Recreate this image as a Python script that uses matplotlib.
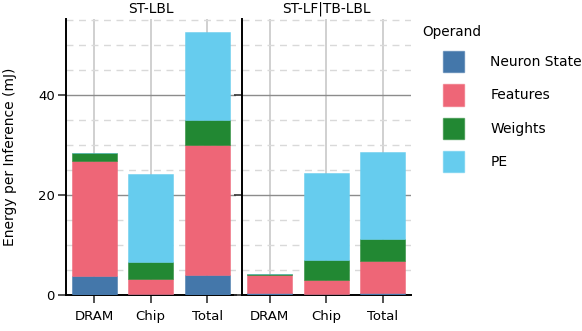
import numpy as np
import matplotlib.pyplot as plt
from matplotlib.patches import Patch
from matplotlib.ticker import MultipleLocator

# categories and panels
categories = ["DRAM", "Chip", "Total"]
panels = ["ST-LBL", "ST-LF|TB-LBL"]
operands = ["Neuron State", "Features", "Weights", "PE"]
colors = ["#4477AA", "#EE6677", "#228833", "#66CCEE"]

# energy per operand (mJ), one list per panel, order DRAM / Chip / Total
neuron_state = [[3.7, 0.2, 3.9], [0.3, 0.05, 0.35]]
features = [[23.1, 3.0, 26.1], [3.6, 2.8, 6.4]]
weights = [[1.6, 3.4, 5.0], [0.2, 4.1, 4.3]]
pe = [[0.0, 17.5, 17.5], [0.0, 17.4, 17.4]]

series = [neuron_state, features, weights, pe]

fig = plt.figure(figsize=(5.82, 3.31), dpi=100)
W, H = 582, 331
axes = [fig.add_axes([66 / W, 1 - 295 / H, 169.5 / W, 276.5 / H]),
        fig.add_axes([241.5 / W, 1 - 295 / H, 169.5 / W, 276.5 / H])]

x = np.arange(len(categories))
for i, ax in enumerate(axes):
    bottom = np.zeros(len(categories))
    for vals, col in zip(series, colors):
        v = np.array(vals[i])
        ax.bar(x, v, width=0.8, bottom=bottom, color=col,
               edgecolor=col + "99", linewidth=0.6, zorder=3)
        bottom += v

    ax.set_xlim(-0.5, 2.5)
    ax.set_ylim(-0.1, 55.2)
    ax.set_xticks(x)
    ax.set_xticklabels(categories, fontsize=9.5)
    ax.yaxis.set_major_locator(MultipleLocator(20))
    ax.yaxis.set_minor_locator(MultipleLocator(5))
    ax.grid(axis="y", which="major", color="#8c8c8c", linewidth=1.0, zorder=0)
    ax.grid(axis="y", which="minor", color="#d9d9d9", linewidth=1.0,
            linestyle=(0, (5, 4)), zorder=0)
    ax.grid(axis="x", which="major", color="#c8c8c8", linewidth=1.2, zorder=0)
    ax.tick_params(axis="both", which="major", length=6, width=1.2,
                   color="#333333", labelsize=9.5)
    ax.tick_params(axis="x", pad=5)
    ax.tick_params(axis="y", pad=2)
    ax.tick_params(axis="y", which="minor", length=0)
    for s in ["top", "right"]:
        ax.spines[s].set_visible(False)
    for s in ["left", "bottom"]:
        ax.spines[s].set_linewidth(1.4)
        ax.spines[s].set_color("black")
    ax.set_title(panels[i], fontsize=9.9, pad=4)

axes[1].tick_params(axis="y", labelleft=False)
axes[0].set_ylabel("Energy per Inference (mJ)", fontsize=10, labelpad=15)

# legend: title as separate text so the keys can be indented
fig.text(422 / W, 1 - 32 / H, "Operand", fontsize=9.8, va="center", ha="left")
handles = [Patch(facecolor=c, edgecolor=c + "99", label=o)
           for o, c in zip(operands, colors)]
fig.legend(handles=handles, loc="upper left",
           bbox_to_anchor=(443 / W, 1 - 51 / H), frameon=False,
           fontsize=10, handlelength=1.5, handleheight=2.0,
           labelspacing=0.85, handletextpad=1.9,
           borderaxespad=0, borderpad=0)

fig.savefig("out.png", dpi=100)
